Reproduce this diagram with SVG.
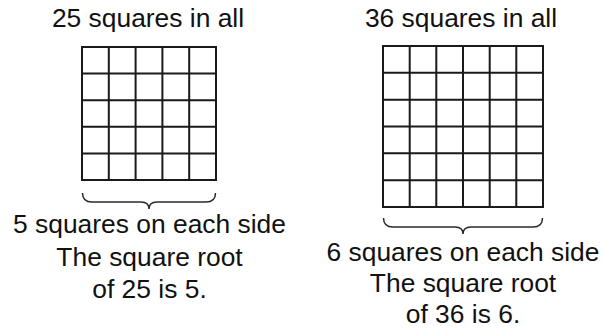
<svg xmlns="http://www.w3.org/2000/svg" width="604" height="329" viewBox="0 0 604 329">
<style>
.t{font-family:"Liberation Sans",Arial,sans-serif;font-size:26.4px;fill:#111;text-anchor:middle}
.g{fill:none;stroke:#1a1a1a;stroke-width:2}
.b{fill:none;stroke:#2a2a2a;stroke-width:1.5}
</style>
<rect width="604" height="329" fill="#fff"/>
<g id="left">
<text class="t" x="148" y="27">25 squares in all</text>
<g class="g">
<rect x="82" y="47" width="134" height="133"/>
<path d="M108.8 47V180M135.6 47V180M162.4 47V180M189.2 47V180M82 73.6H216M82 100.2H216M82 126.8H216M82 153.4H216"/>
</g>
<path class="b" d="M82.5 193 Q82.5 202 92 202 L141 202 Q149 202 149 209 Q149 202 157 202 L206 202 Q215.5 202 215.5 193"/>
<text class="t" x="149.5" y="233">5 squares on each side</text>
<text class="t" x="149.5" y="266">The square root</text>
<text class="t" x="149.5" y="298">of 25 is 5.</text>
</g>
<g id="right">
<text class="t" x="461" y="27">36 squares in all</text>
<g class="g">
<rect x="383" y="46" width="160" height="161"/>
<path d="M409.7 46V207M436.3 46V207M463 46V207M489.7 46V207M516.3 46V207M383 72.8H543M383 99.7H543M383 126.5H543M383 153.3H543M383 180.2H543"/>
</g>
<path class="b" d="M383.5 218 Q383.5 227 393 227 L455 227 Q463 227 463 234 Q463 227 471 227 L533 227 Q542.5 227 542.5 218"/>
<text class="t" x="463" y="261">6 squares on each side</text>
<text class="t" x="463" y="292">The square root</text>
<text class="t" x="463" y="323">of 36 is 6.</text>
</g>
</svg>
